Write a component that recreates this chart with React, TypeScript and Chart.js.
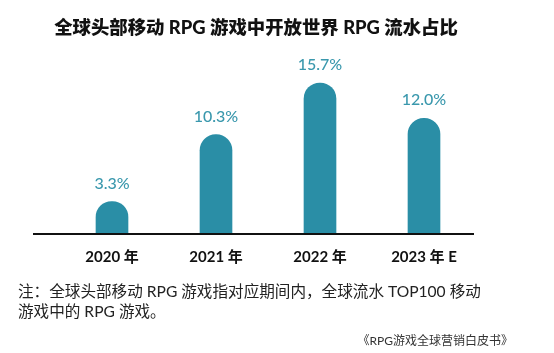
import React, { useEffect, useRef } from "react";
import { Chart, registerables } from "chart.js";

Chart.register(...registerables);

const categories = ["2020 年", "2021 年", "2022 年", "2023 年 E"];
const shares = [3.3, 10.3, 15.7, 12.0];
const valueLabels = ["3.3%", "10.3%", "15.7%", "12.0%"];
const titleText = "全球头部移动 RPG 游戏中开放世界 RPG 流水占比";
const noteLines = [
  "注：全球头部移动 RPG 游戏指对应期间内，全球流水 TOP100 移动",
  "游戏中的 RPG 游戏。",
];
const sourceText = "《RPG游戏全球营销白皮书》";

const FONT = "Lato, 'Noto Sans CJK SC', sans-serif";
const BAR = "#2a8ea6";
const LABEL = "#3a98ad";

const decorPlugin = {
  id: "decor",
  afterDraw(chart: any) {
    const ctx = chart.ctx;
    const area = chart.chartArea;
    ctx.save();
    // baseline
    ctx.strokeStyle = "#111";
    ctx.lineWidth = 2;
    ctx.beginPath();
    ctx.moveTo(area.left - 27, area.bottom + 1);
    ctx.lineTo(area.right - 2, area.bottom + 1);
    ctx.stroke();
    // value labels
    const meta = chart.getDatasetMeta(0);
    ctx.fillStyle = LABEL;
    ctx.font = `500 16px ${FONT}`;
    ctx.textAlign = "center";
    ctx.textBaseline = "middle";
    meta.data.forEach((bar: any, i: number) => {
      ctx.fillText(valueLabels[i], bar.x, bar.y - 18);
    });
    // title
    ctx.fillStyle = "#111";
    ctx.font = `900 18.4px ${FONT}`;
    ctx.fillText(titleText, 256, 28);
    // note
    ctx.fillStyle = "#222";
    ctx.font = `15.6px ${FONT}`;
    ctx.textAlign = "left";
    ctx.fillText(noteLines[0], 18, 292);
    ctx.fillText(noteLines[1], 18, 312);
    // source
    ctx.font = `12px ${FONT}`;
    ctx.fillStyle = "#333";
    ctx.textAlign = "right";
    ctx.fillText(sourceText, 513, 341);
    ctx.restore();
  },
};

export default function App() {
  const ref = useRef<HTMLCanvasElement | null>(null);
  useEffect(() => {
    document.body.style.margin = "0";
    document.body.style.background = "#fff";
    const chart = new Chart(ref.current!, {
      type: "bar",
      data: {
        labels: categories,
        datasets: [
          {
            data: shares,
            backgroundColor: BAR,
            barThickness: 32,
            borderRadius: { topLeft: 16, topRight: 16, bottomLeft: 0, bottomRight: 0 },
            borderSkipped: false,
          },
        ],
      },
      options: {
        animation: false,
        responsive: false,
        maintainAspectRatio: false,
        layout: { padding: { left: 60, right: 78, top: 61, bottom: 72 } },
        plugins: { legend: { display: false }, tooltip: { enabled: false }, title: { display: false } },
        scales: {
          x: {
            grid: { display: false, drawTicks: false },
            border: { display: false },
            ticks: { color: "#111", padding: 15, font: { family: FONT, size: 15, weight: "bold" } },
          },
          y: { display: false, min: 0, max: 18 },
        },
      },
      plugins: [decorPlugin],
    });
    return () => chart.destroy();
  }, []);
  return <canvas ref={ref} width={554} height={353} style={{ display: "block" }} />;
}
